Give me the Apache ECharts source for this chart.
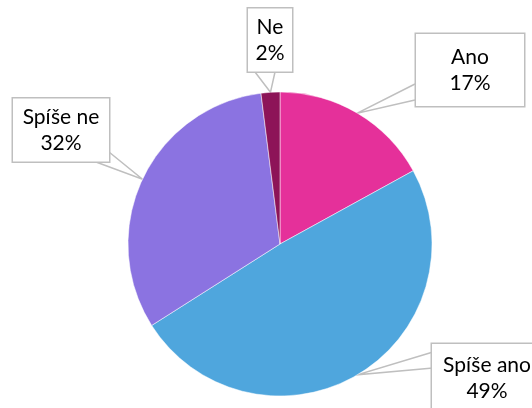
<!DOCTYPE html>
<html>
<head>
<meta charset="utf-8">
<script src="https://cdn.jsdelivr.net/npm/echarts@6/dist/echarts.min.js"></script>
<style>
  html, body { margin: 0; padding: 0; background: #fff; }
  #chart { width: 532px; height: 408px; }
</style>
</head>
<body>
<div id="chart"></div>
<script>
// answers and shares (%)
const categories = ['Ano', 'Spíše ano', 'Spíše ne', 'Ne']
const values = [17, 49, 32, 2]
const colors = ['#e5309a', '#4fa6dd', '#8b73e1', '#8d1458']

// callout boxes: centre x, centre y, width, height, base points on the box
const boxes = [
  { x: 470, y: 70, w: 108, h: 72, a: [415, 84], b: [415, 100] },
  { x: 487, y: 378, w: 110, h: 68, a: [433, 352], b: [433, 368] },
  { x: 61, y: 130, w: 96, h: 63, a: [96, 162], b: [109, 152] },
  { x: 270, y: 40, w: 44, h: 63, a: [255, 72], b: [275, 72] }
]

const LINE_H = 26

const chart = echarts.init(document.getElementById('chart'), null, { renderer: 'canvas' })

chart.setOption({
  animation: false,
  series: [
    {
      type: 'pie',
      center: [280, 244],
      radius: 152,
      startAngle: 90,
      clockwise: true,
      data: categories.map((name, i) => {
        const bx = boxes[i]
        const padAll = bx.h - 2 * LINE_H
        return {
          name: name,
          value: values[i],
          itemStyle: { color: colors[i] },
          label: { width: bx.w - 4, padding: [padAll - 1, 2, 1, 2] }
        }
      }),
      itemStyle: { borderColor: '#fff', borderWidth: 0.5 },
      label: {
        show: true,
        position: 'outside',
        formatter: '{b}\n{d}%',
        fontFamily: 'Lato, "Open Sans", sans-serif',
        fontSize: 21,
        lineHeight: LINE_H,
        color: '#000',
        align: 'center',
        backgroundColor: '#fff',
        borderColor: '#bfbfbf',
        borderWidth: 1.5
      },
      labelLine: {
        show: true,
        lineStyle: { color: '#bfbfbf', width: 1.5 }
      },
      labelLayout: function (params) {
        const bx = boxes[params.dataIndex]
        const pts = params.labelLinePoints
        const tip = pts ? pts[0] : [bx.a[0], bx.a[1]]
        return {
          x: bx.x,
          y: bx.y,
          align: 'center',
          verticalAlign: 'middle',
          labelLinePoints: [bx.a, tip, bx.b]
        }
      }
    }
  ]
})
</script>
</body>
</html>
